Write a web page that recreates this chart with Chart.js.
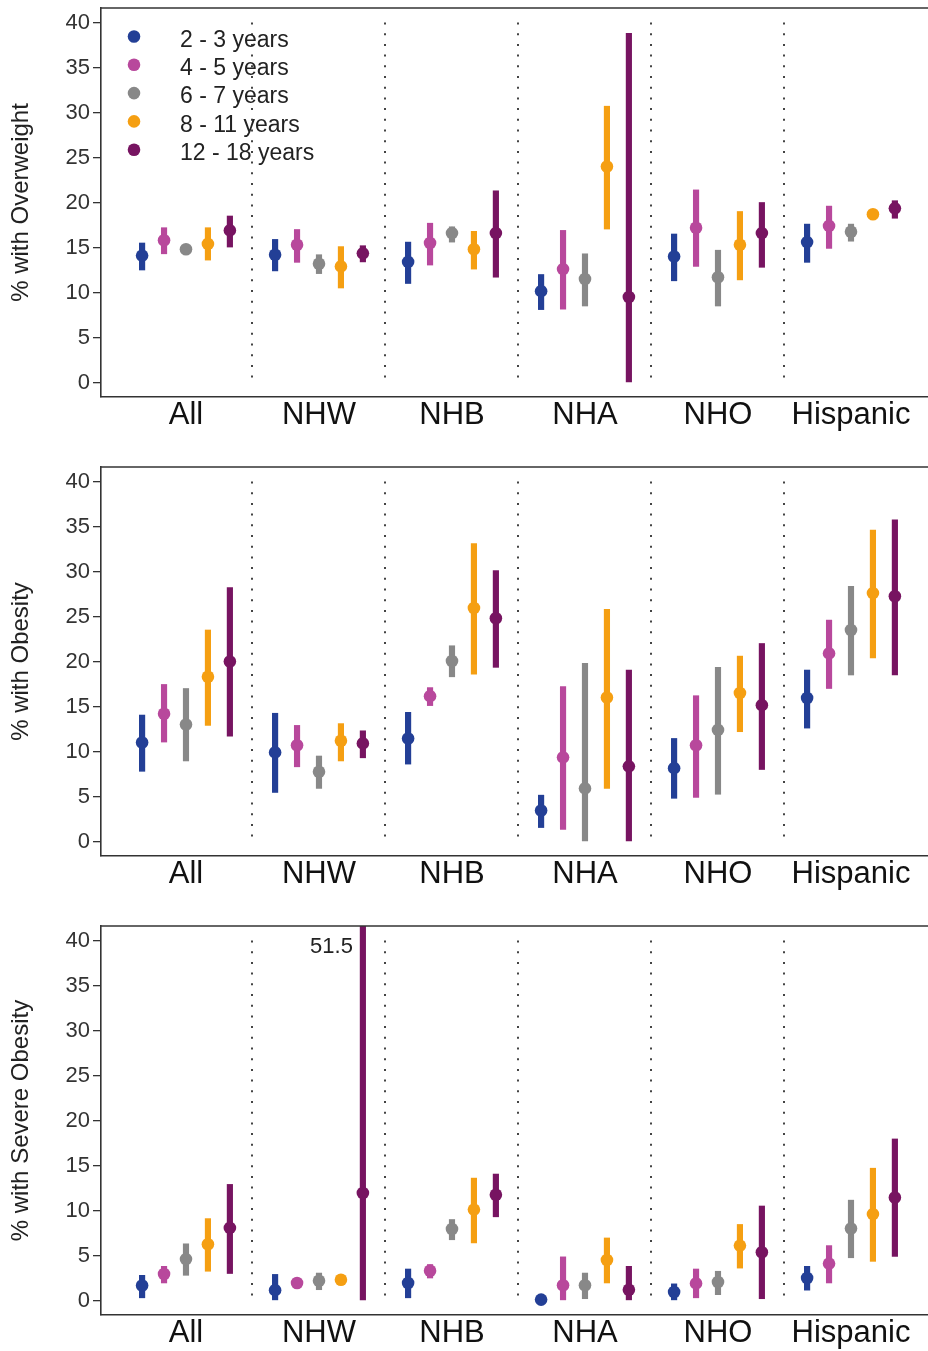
<!DOCTYPE html>
<html><head><meta charset="utf-8">
<script src="https://cdn.jsdelivr.net/npm/chart.js@4.4.1/dist/chart.umd.min.js"></script>
<style>
html,body{margin:0;padding:0;background:#fff;overflow:hidden;width:928px;height:1351px}
canvas{position:absolute;left:0}
</style></head><body>
<canvas id="c0" width="928" height="459" style="top:0px"></canvas>
<canvas id="c1" width="928" height="459" style="top:459px"></canvas>
<canvas id="c2" width="928" height="459" style="top:918px"></canvas>
<script>
// ---- data ----
const categories = ['All', 'NHW', 'NHB', 'NHA', 'NHO', 'Hispanic'];
const ageGroups = ['2 - 3 years', '4 - 5 years', '6 - 7 years', '8 - 11 years', '12 - 18 years'];
const ageColors = ['#233f96', '#b8489c', '#888888', '#f59f12', '#771461'];
const yTickValues = [0, 5, 10, 15, 20, 25, 30, 35, 40];
const panelTitles = ['% with Overweight', '% with Obesity', '% with Severe Obesity'];

// rows = age groups, columns = categories
const overweightEst = [
  [14.1, 14.2, 13.4, 10.15, 14.0, 15.6],
  [15.8, 15.3, 15.5, 12.6, 17.2, 17.4],
  [14.8, 13.2, 16.6, 11.5, 11.7, 16.75],
  [15.4, 12.9, 14.8, 24.0, 15.3, 18.7],
  [16.9, 14.35, 16.6, 9.5, 16.6, 19.35]
];
const overweightLo = [
  [12.5, 12.4, 11.0, 8.1, 11.3, 13.35],
  [14.3, 13.35, 13.05, 8.15, 12.9, 14.9],
  [14.3, 12.1, 15.6, 8.5, 8.5, 15.7],
  [13.6, 10.5, 12.6, 17.05, 11.4, 18.4],
  [15.05, 13.4, 11.7, 0, 12.8, 18.25]
];
const overweightHi = [
  [15.5, 15.9, 15.6, 12.0, 16.5, 17.6],
  [17.2, 17.0, 17.7, 16.9, 21.4, 19.6],
  [15.2, 14.2, 17.3, 14.3, 14.7, 17.6],
  [17.2, 15.1, 16.8, 30.7, 19.0, 19.0],
  [18.5, 15.2, 21.3, 38.8, 20.0, 20.2]
];
const obesityEst = [
  [11.0, 9.9, 11.45, 3.45, 8.15, 15.95],
  [14.2, 10.7, 16.15, 9.35, 10.7, 20.9],
  [13.0, 7.75, 20.05, 5.9, 12.4, 23.5],
  [18.3, 11.2, 25.95, 16.0, 16.5, 27.6],
  [20.0, 10.9, 24.8, 8.35, 15.15, 27.25]
];
const obesityLo = [
  [7.8, 5.45, 8.6, 1.55, 4.8, 12.6],
  [11.05, 8.3, 15.1, 1.35, 4.9, 17.0],
  [8.95, 5.9, 18.3, 0, 5.25, 18.5],
  [12.9, 8.95, 18.6, 5.9, 12.2, 20.4],
  [11.7, 9.3, 19.35, 0, 8.0, 18.5]
];
const obesityHi = [
  [14.05, 14.25, 14.35, 5.15, 11.45, 19.05],
  [17.45, 12.9, 17.1, 17.2, 16.2, 24.6],
  [17.0, 9.5, 21.75, 19.8, 19.35, 28.35],
  [23.5, 13.1, 33.1, 25.8, 20.6, 34.6],
  [28.2, 12.3, 30.1, 19.05, 22.0, 35.75]
];
const severeEst = [
  [1.67, 1.15, 1.95, 0.1, 0.95, 2.5],
  [2.95, 1.95, 3.3, 1.7, 1.9, 4.1],
  [4.6, 2.2, 7.95, 1.7, 2.05, 8.0],
  [6.25, 2.3, 10.1, 4.5, 6.1, 9.6],
  [8.07, 11.95, 11.75, 1.2, 5.37, 11.45]
];
const severeLo = [
  [0.3, 0, 0.3, 0.1, 0, 1.15],
  [1.95, 1.6, 2.5, 0, 0.3, 1.95],
  [2.8, 1.2, 6.75, 0.2, 0.65, 4.75],
  [3.25, 2.1, 6.4, 1.95, 3.6, 4.35],
  [3.0, 0, 9.3, 0, 0.2, 4.9]
];
const severeHi = [
  [2.8, 2.9, 3.5, 0.1, 1.85, 3.8],
  [3.8, 2.3, 4.0, 4.85, 3.5, 6.1],
  [6.3, 3.05, 9.0, 3.05, 3.25, 11.15],
  [9.1, 2.5, 13.6, 6.95, 8.45, 14.7],
  [12.9, 51.5, 14.05, 3.8, 10.5, 17.95]
];

// ---- rendering ----
const FONT = "'Liberation Sans', Arial, Helvetica, sans-serif";
const DODGE = 0.165;
const Y_MIN = -1.61, Y_MAX = 41.61;
const X_MIN = -0.639, X_MAX = 5.579;

const panels = [
  {est: overweightEst, lo: overweightLo, hi: overweightHi},
  {est: obesityEst, lo: obesityLo, hi: obesityHi},
  {est: severeEst, lo: severeLo, hi: severeHi}
];

const separatorPlugin = {
  id: 'separators',
  beforeDatasetsDraw(chart) {
    const {ctx} = chart;
    const xs = chart.scales.x, ys = chart.scales.y;
    ctx.save();
    ctx.strokeStyle = '#444';
    ctx.lineWidth = 2;
    ctx.setLineDash([2, 8.7]);
    for (let k = 0; k < categories.length - 1; k++) {
      const x = Math.round(xs.getPixelForValue(k + 0.5));
      ctx.beginPath();
      ctx.moveTo(x, ys.getPixelForValue(40));
      ctx.lineTo(x, ys.getPixelForValue(0));
      ctx.stroke();
    }
    ctx.restore();
  }
};

const framePlugin = {
  id: 'frame',
  afterDraw(chart) {
    const {ctx, chartArea} = chart;
    ctx.save();
    ctx.strokeStyle = '#333';
    ctx.lineWidth = 1.6;
    ctx.beginPath();
    ctx.moveTo(chartArea.left, chartArea.top);
    ctx.lineTo(chart.width, chartArea.top);
    ctx.stroke();
    ctx.restore();
  }
};

const overflowLabelPlugin = {
  id: 'overflowLabel',
  afterDatasetsDraw(chart) {
    const {ctx, chartArea} = chart;
    const xs = chart.scales.x, ys = chart.scales.y;
    ctx.save();
    ctx.font = '22px ' + FONT;
    ctx.fillStyle = '#222';
    ctx.textAlign = 'right';
    ctx.textBaseline = 'middle';
    chart.data.datasets.forEach(ds => {
      if (ds.type !== 'bar') return;
      ds.data.forEach(d => {
        if (d.y[1] > ys.max) {
          ctx.fillText(String(d.y[1]), xs.getPixelForValue(d.x) - 10, chartArea.top + 21);
        }
      });
    });
    ctx.restore();
  }
};

const legendPlugin = {
  id: 'insideLegend',
  afterDraw(chart, args, opts) {
    if (!opts.show) return;
    const {ctx, chartArea} = chart;
    ctx.save();
    ctx.font = '23px ' + FONT;
    ctx.textBaseline = 'middle';
    ctx.textAlign = 'left';
    ageGroups.forEach((g, i) => {
      const y = chartArea.top + 28.5 + i * 28.3;
      ctx.fillStyle = ageColors[i];
      ctx.beginPath();
      ctx.arc(chartArea.left + 33, y, 6.3, 0, Math.PI * 2);
      ctx.fill();
      ctx.fillStyle = '#222';
      ctx.fillText(g, chartArea.left + 79, y + 4);
    });
    ctx.restore();
  }
};

panels.forEach((p, pi) => {
  const datasets = [];
  ageGroups.forEach((g, i) => {
    datasets.push({
      type: 'bar',
      label: g + ' CI',
      data: categories.map((c, j) => ({x: j + (i - 2) * DODGE, y: [p.lo[i][j], p.hi[i][j]]})),
      backgroundColor: ageColors[i],
      borderWidth: 0,
      barThickness: 5.5,
      grouped: false,
      order: 2
    });
  });
  ageGroups.forEach((g, i) => {
    datasets.push({
      type: 'scatter',
      label: g,
      data: categories.map((c, j) => ({x: j + (i - 2) * DODGE, y: p.est[i][j]})),
      pointRadius: 6.3,
      pointBackgroundColor: ageColors[i],
      pointBorderWidth: 0,
      showLine: false,
      order: 1
    });
  });

  new Chart(document.getElementById('c' + pi), {
    type: 'scatter',
    data: {datasets},
    plugins: [separatorPlugin, framePlugin, overflowLabelPlugin, legendPlugin],
    options: {
      responsive: false,
      animation: false,
      devicePixelRatio: 1,
      layout: {autoPadding: false, padding: {top: 8, left: 0, right: 0, bottom: 0}},
      plugins: {
        legend: {display: false},
        tooltip: {enabled: false},
        insideLegend: {show: pi === 0}
      },
      scales: {
        x: {
          type: 'linear',
          min: X_MIN,
          max: X_MAX,
          offset: false,
          afterFit: s => { s.height = 62; s.paddingLeft = 0; s.paddingRight = 0; },
          afterBuildTicks: s => { s.ticks = categories.map((c, j) => ({value: j})); },
          grid: {display: false},
          border: {display: true, color: '#333', width: 1.6},
          ticks: {
            autoSkip: false,
            maxRotation: 0,
            padding: -8,
            color: '#111',
            font: {family: FONT, size: 31},
            callback: v => categories[Math.round(v)]
          }
        },
        y: {
          type: 'linear',
          min: Y_MIN,
          max: Y_MAX,
          afterFit: s => { s.width = 101; s.paddingTop = 0; s.paddingBottom = 0; },
          afterBuildTicks: s => { s.ticks = yTickValues.map(v => ({value: v})); },
          grid: {drawOnChartArea: false, drawTicks: true, tickLength: 8, color: '#333', lineWidth: 1.3},
          border: {display: true, color: '#333', width: 1.6},
          ticks: {
            autoSkip: false,
            padding: 3,
            color: '#333',
            font: {family: FONT, size: 22}
          },
          title: {
            display: true,
            text: panelTitles[pi],
            color: '#222',
            font: {family: FONT, size: 24},
            padding: {top: 7, bottom: 0}
          }
        }
      }
    }
  });
});
</script>
</body></html>
